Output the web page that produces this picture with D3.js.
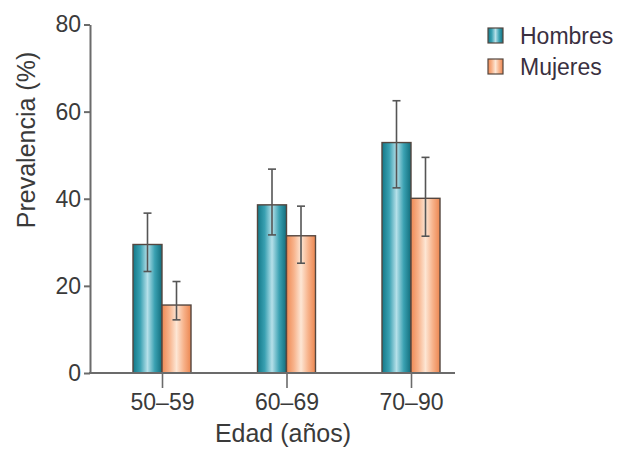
<!DOCTYPE html>
<html>
<head>
<meta charset="utf-8">
<script src="https://cdn.jsdelivr.net/npm/d3@7"></script>
<style>
  body { margin: 0; background: #fff; }
  svg { display: block; font-family: "Liberation Sans", Arial, sans-serif; }
</style>
</head>
<body>
<svg id="chart" width="619" height="449"></svg>
<script>
const categories = ["50–59", "60–69", "70–90"];
const series = ["Hombres", "Mujeres"];
const hombres = [29.5, 38.6, 52.9];
const hombresLow = [23.3, 31.7, 42.5];
const hombresHigh = [36.7, 46.8, 62.5];
const mujeres = [15.6, 31.5, 40.1];
const mujeresLow = [12.2, 25.2, 31.4];
const mujeresHigh = [21.0, 38.3, 49.5];
const yTicks = [0, 20, 40, 60, 80];

const svg = d3.select("#chart");
const axisColor = "#6b6b6b";
const textColor = "#3a3a3a";
const font = "Liberation Sans, Arial, sans-serif";

const y = d3.scaleLinear().domain([0, 80]).range([373, 24.5]);
const x = d3.scalePoint().domain(categories).range([162, 411]);
const xSub = d3.scaleBand().domain(series).range([-29, 29]).padding(0);

// Gradients
const defs = svg.append("defs");
const grads = {
  Hombres: ["#137888", "#3aa1b2", "#b5e0e9", "#3aa1b2", "#126d7c"],
  Mujeres: ["#ee8a55", "#f7b28a", "#fde6d4", "#f7b28a", "#ec8650"]
};
series.forEach(s => {
  const lg = defs.append("linearGradient").attr("id", "g-" + s)
    .attr("x1", "0").attr("x2", "1").attr("y1", "0").attr("y2", "0");
  grads[s].forEach((c, i) => {
    lg.append("stop").attr("offset", i / (grads[s].length - 1)).attr("stop-color", c);
  });
});

const rows = [];
categories.forEach((c, i) => {
  rows.push({ cat: c, s: "Hombres", v: hombres[i], lo: hombresLow[i], hi: hombresHigh[i] });
  rows.push({ cat: c, s: "Mujeres", v: mujeres[i], lo: mujeresLow[i], hi: mujeresHigh[i] });
});

// Bars
svg.append("g").selectAll("rect").data(rows).join("rect")
  .attr("x", d => x(d.cat) + xSub(d.s))
  .attr("y", d => y(d.v))
  .attr("width", xSub.bandwidth())
  .attr("height", d => y(0) - y(d.v))
  .attr("fill", d => "url(#g-" + d.s + ")")
  .attr("stroke", "#54463f")
  .attr("stroke-width", 1.4);

// Error bars
const eb = svg.append("g").attr("stroke", "#555").attr("stroke-width", 1.6);
rows.forEach(d => {
  const cx = x(d.cat) + xSub(d.s) + xSub.bandwidth() / 2;
  eb.append("line").attr("x1", cx).attr("x2", cx).attr("y1", y(d.lo)).attr("y2", y(d.hi));
  eb.append("line").attr("x1", cx - 4).attr("x2", cx + 4).attr("y1", y(d.hi)).attr("y2", y(d.hi));
  eb.append("line").attr("x1", cx - 4).attr("x2", cx + 4).attr("y1", y(d.lo)).attr("y2", y(d.lo));
});

// Y axis
const yAxis = svg.append("g").attr("transform", "translate(90,0)")
  .call(d3.axisLeft(y).tickValues(yTicks).tickSize(6).tickSizeOuter(0).tickPadding(3));
yAxis.select(".domain").attr("stroke", axisColor).attr("stroke-width", 2);
yAxis.selectAll(".tick line").attr("stroke", axisColor).attr("stroke-width", 2);
yAxis.selectAll(".tick text").attr("fill", textColor).attr("font-size", 23)
  .attr("font-family", font);

// X axis
const xAxis = svg.append("g").attr("transform", `translate(0,${y(0)})`)
  .call(d3.axisBottom(x).tickSize(15).tickPadding(6));
xAxis.select(".domain").remove();
xAxis.selectAll(".tick line").attr("stroke", axisColor).attr("stroke-width", 1.6);
xAxis.selectAll(".tick text").attr("fill", textColor).attr("font-size", 23)
  .attr("font-family", font);
svg.append("line")
  .attr("x1", 89).attr("x2", 455)
  .attr("y1", y(0)).attr("y2", y(0))
  .attr("stroke", axisColor).attr("stroke-width", 2);

// Axis titles
svg.append("text")
  .attr("x", 283).attr("y", 442)
  .attr("text-anchor", "middle")
  .attr("font-size", 25).attr("fill", textColor)
  .text("Edad (años)");
svg.append("text")
  .attr("transform", "translate(35,140) rotate(-90)")
  .attr("text-anchor", "middle")
  .attr("font-size", 25).attr("fill", textColor)
  .text("Prevalencia (%)");

// Legend
const legend = svg.append("g").attr("transform", "translate(488,28)");
series.forEach((s, i) => {
  const row = legend.append("g").attr("transform", `translate(0,${i * 31})`);
  row.append("rect").attr("width", 15).attr("height", 15)
    .attr("fill", "url(#g-" + s + ")")
    .attr("stroke", "#54463f").attr("stroke-width", 1.2);
  row.append("text").attr("x", 32).attr("y", 15.5)
    .attr("font-size", 23).attr("fill", "#3a3040")
    .attr("font-family", font)
    .text(s);
});
</script>
</body>
</html>
